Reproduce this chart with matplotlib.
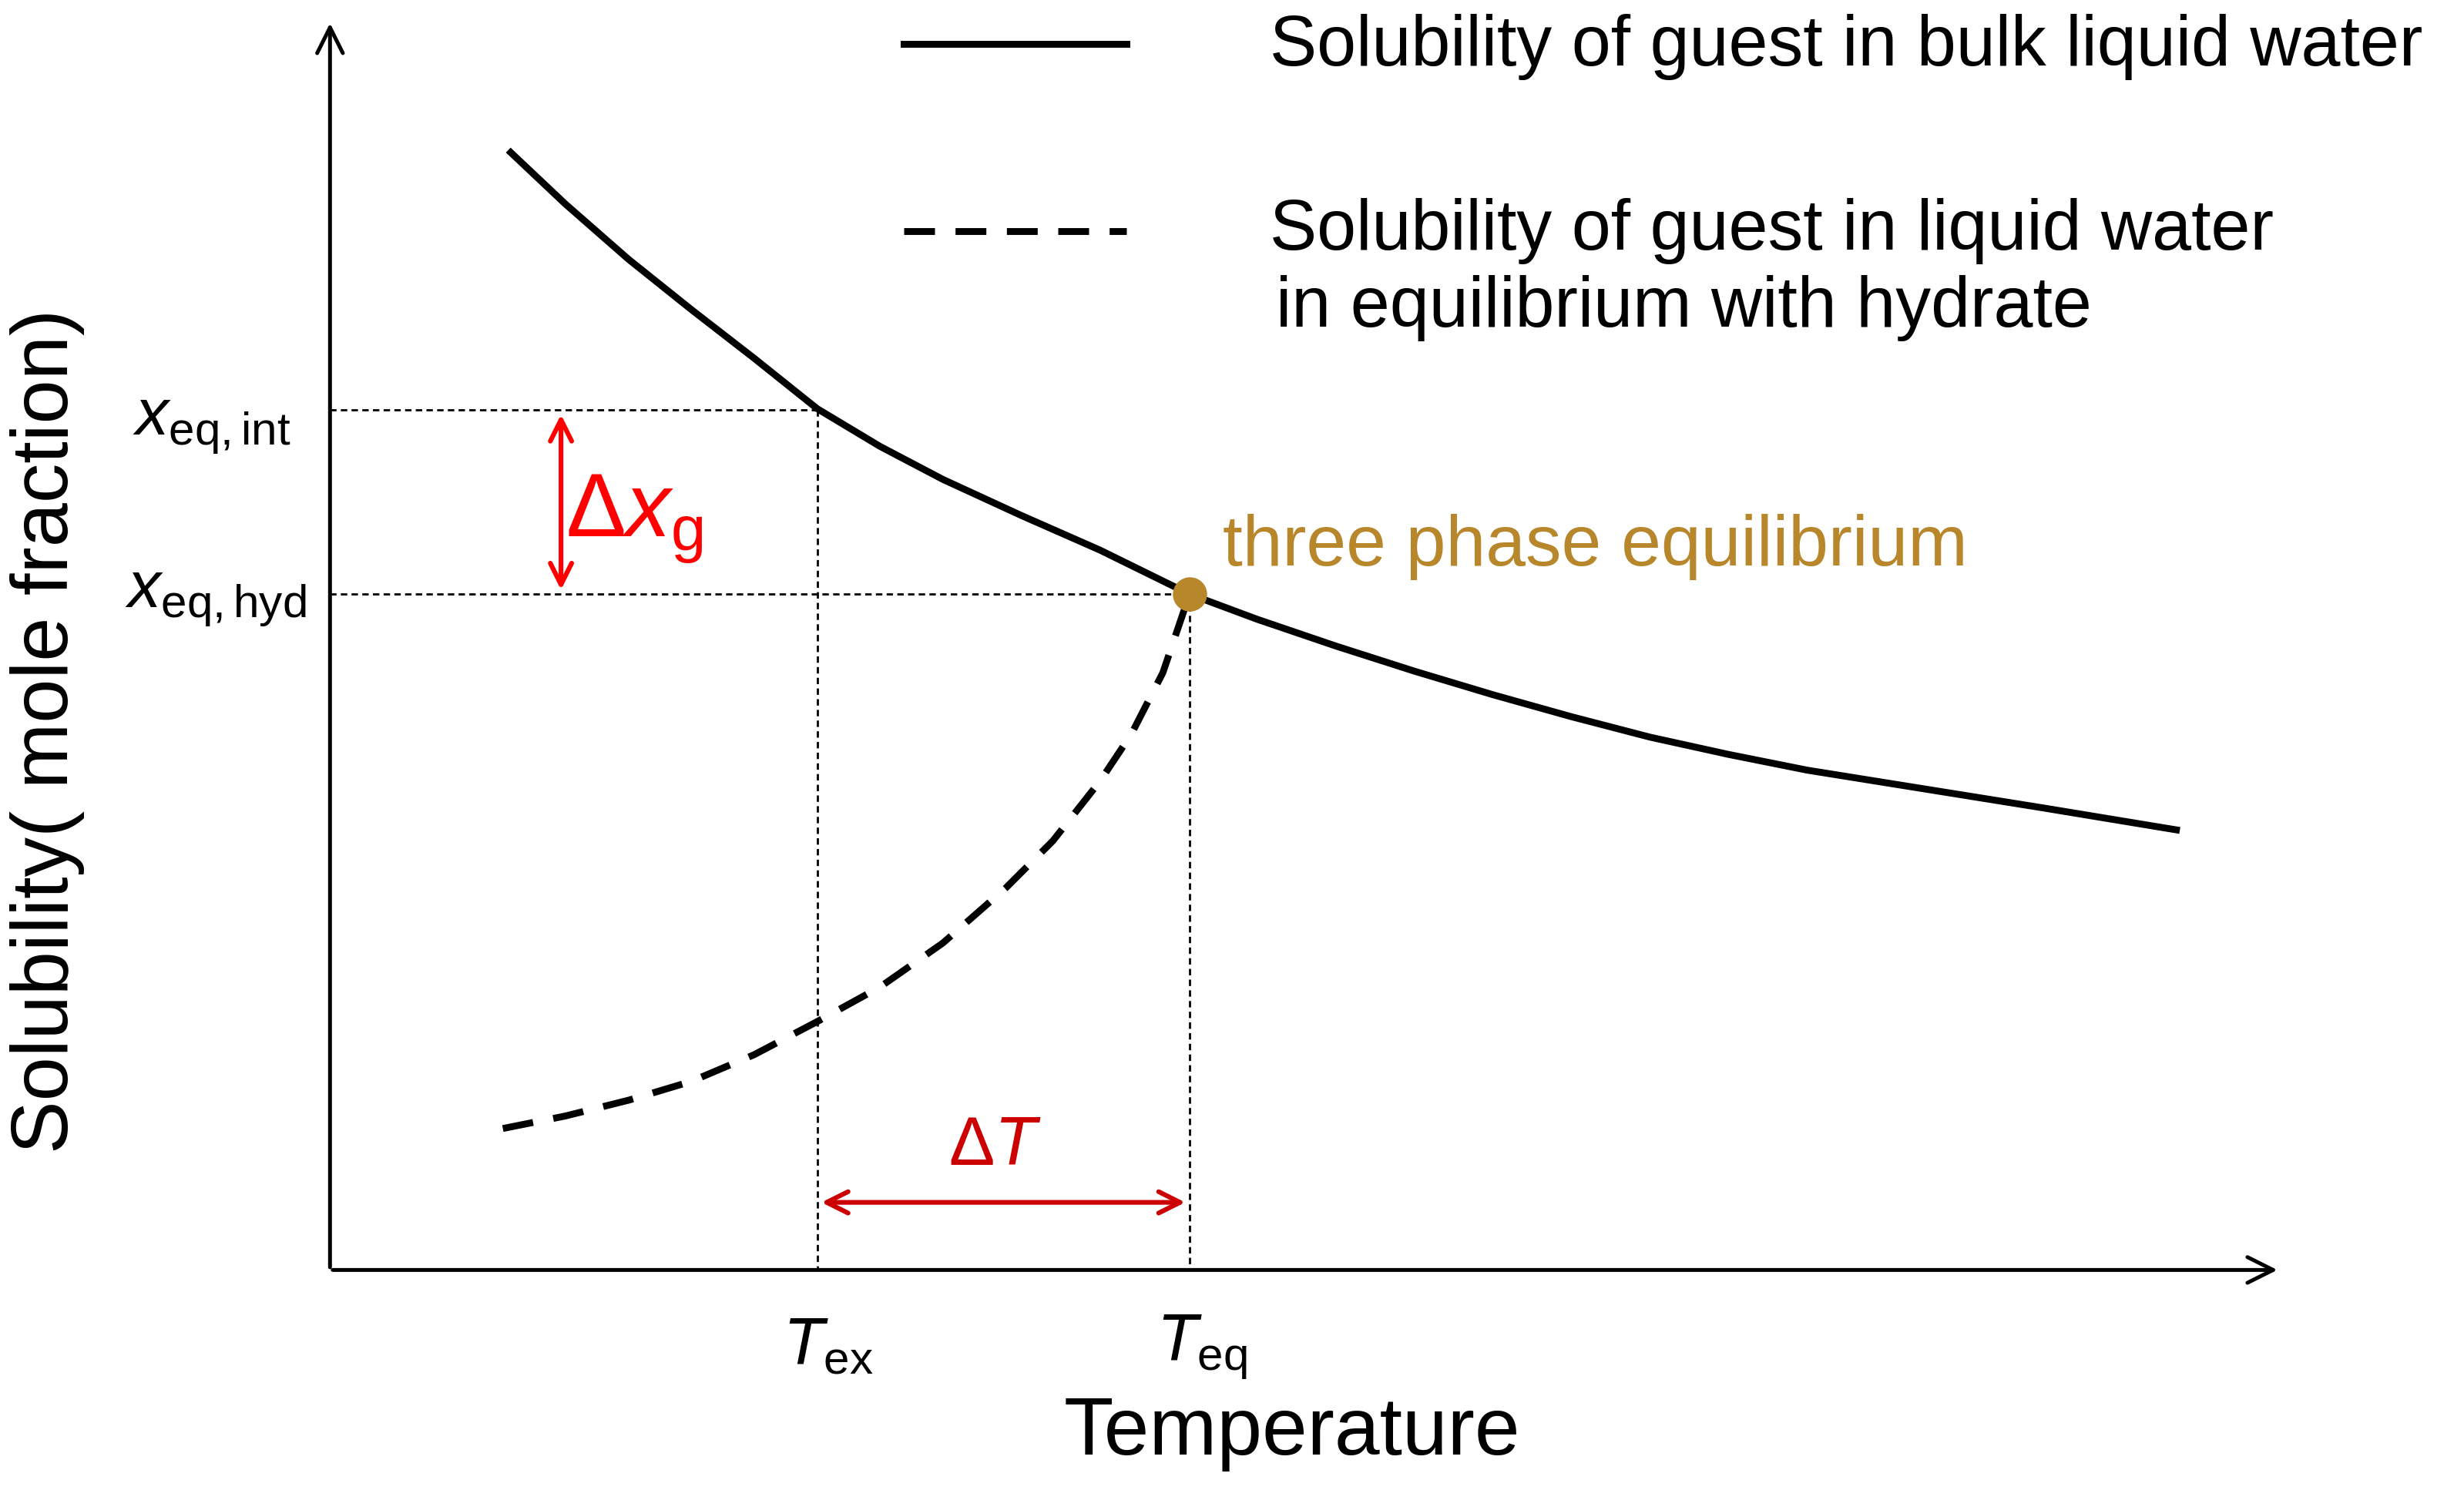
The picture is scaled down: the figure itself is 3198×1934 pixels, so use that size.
import matplotlib
matplotlib.use("Agg")
import matplotlib.pyplot as plt
from matplotlib.patches import FancyArrowPatch

plt.rcParams['font.family'] = ['Liberation Sans', 'DejaVu Sans']
plt.rcParams['mathtext.fontset'] = 'custom'
plt.rcParams['mathtext.rm'] = 'Liberation Sans'
plt.rcParams['mathtext.it'] = 'Liberation Sans:italic'

# Data (schematic units; y grows downward)
bulk_T = [325, 360, 400, 440, 480, 520, 560, 600, 650, 700, 757, 800, 850, 900,
          950, 1000, 1050, 1100, 1150, 1200, 1250, 1300, 1385]
bulk_x = [97, 130, 165, 197, 228, 260, 284, 305, 328, 350, 378, 394, 411, 427,
          442, 456, 469, 480, 490, 498, 506, 514, 528]
hyd_T = [320, 360, 400, 440, 480, 520, 560, 600, 640, 670, 700, 720, 740, 757]
hyd_x = [718, 710, 700, 688, 671, 650, 628, 600, 565, 535, 497, 467, 428, 378]
T_ex, T_eq = 520, 757
x_int, x_hyd = 261, 378
x0, y0 = 210, 808

fig = plt.figure(figsize=(15.99, 9.67), dpi=200)
ax = fig.add_axes([0, 0, 1, 1])
ax.set_xlim(0, 1568)
ax.set_ylim(948, 0)
ax.axis('off')

ax.plot(bulk_T, bulk_x, color='black', lw=3.2, solid_joinstyle='round')
ax.plot(hyd_T, hyd_x, color='black', lw=3.2, ls=(0, (4.5, 3)))

ax.annotate('', xy=(x0, 12), xytext=(x0, y0 + 1),
            arrowprops=dict(arrowstyle='->', lw=1.8, color='black', mutation_scale=30))
ax.annotate('', xy=(1452, y0), xytext=(x0 - 1, y0),
            arrowprops=dict(arrowstyle='->', lw=1.8, color='black', mutation_scale=30))

dl = dict(color='black', lw=1, ls=(0, (3, 2)))
ax.plot([x0, T_ex], [x_int, x_int], **dl)
ax.plot([x0, T_eq], [x_hyd, x_hyd], **dl)
ax.plot([T_ex, T_ex], [x_int, y0], **dl)
ax.plot([T_eq, T_eq], [x_hyd, y0], **dl)

ax.plot([T_eq], [x_hyd], 'o', color='#B8862B', ms=15, zorder=5)
ax.text(778, 348, 'three phase equilibrium', color='#B8862B', fontsize=33.5, va='center')

ax.add_patch(FancyArrowPatch((357, x_int), (357, x_hyd), arrowstyle='<->',
                             color='red', lw=2.2, mutation_scale=25))
ax.text(360, 330, r'$\Delta x_{\mathrm{g}}$', color='red', fontsize=42, va='center')

ax.add_patch(FancyArrowPatch((T_ex, 765), (T_eq, 765), arrowstyle='<->',
                             color='#CC0000', lw=2.2, mutation_scale=25))
ax.text(633, 730, r'$\Delta T$', color='#CC0000', fontsize=32, ha='center', va='center')

ax.text(185, 270, r'$x_{\mathrm{eq,int}}$', fontsize=31, ha='right', va='center')
ax.text(195, 380, r'$x_{\mathrm{eq,hyd}}$', fontsize=31, ha='right', va='center')
ax.text(527, 857, r'$T_{\mathrm{ex}}$', fontsize=31, ha='center', va='center')
ax.text(765, 857, r'$T_{\mathrm{eq}}$', fontsize=31, ha='center', va='center')

ax.text(822, 912, 'Temperature', fontsize=38, ha='center', va='center')
ax.text(30, 465, 'Solubility( mole fraction)', fontsize=37, rotation=90,
        ha='center', va='center')

ax.plot([575, 717], [28, 28], color='black', lw=3.2)
ax.text(808, 30, 'Solubility of guest in bulk liquid water', fontsize=33, va='center')
ax.plot([575, 717], [147, 147], color='black', lw=3.2, ls=(0, (4.5, 3)))
ax.text(808, 147, 'Solubility of guest in liquid water', fontsize=33, va='center')
ax.text(812, 196, 'in equilibrium with hydrate', fontsize=33, va='center')

fig.savefig('out.png', dpi=200)
